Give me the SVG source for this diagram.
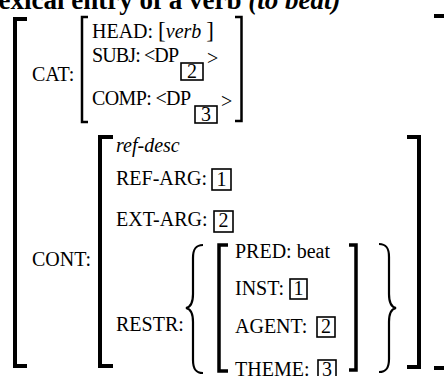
<svg xmlns="http://www.w3.org/2000/svg" width="444" height="376" viewBox="0 0 444 376">
<style>
text{font-family:"Liberation Serif","Times New Roman",serif;font-size:20px;fill:#000}
.title{font-size:27px;font-weight:bold}
.it{font-style:italic}
.br{fill:none;stroke:#000;stroke-linecap:butt;stroke-linejoin:miter}
.b4{stroke-width:4}
.b3{stroke-width:3.5}
.b2{stroke-width:2.5}
.brace{fill:none;stroke:#000;stroke-width:2.2}
.box{fill:none;stroke:#000;stroke-width:1.6}
.num{text-anchor:middle}
</style>
<rect width="444" height="376" fill="#fff"/>
<text id="title" class="title" x="-9" y="9">lexical entry of a verb <tspan class="it">(to beat)</tspan></text>

<g id="outer">
<path class="br b4" d="M27,19 H15 V366 H27"/>
<path class="br b4" d="M434,16 H446 V368 H434"/>
</g>

<g id="cat">
<text x="32" y="81">CAT:</text>
<path class="br b2" d="M88,17 H82 V122 H88"/>
<path class="br b2" d="M235,17 H241.5 V121 H235"/>
<text x="92" y="38">HEAD: <tspan font-size="23">[</tspan><tspan class="it">verb </tspan><tspan font-size="23">]</tspan></text>
<text x="92" y="62" textLength="87" lengthAdjust="spacing">SUBJ: &lt;DP</text>
<rect class="box" x="181" y="63" width="22" height="17"/>
<text class="num" x="192" y="78">2</text>
<text x="207" y="65">&gt;</text>
<text x="92" y="105" textLength="99" lengthAdjust="spacing">COMP: &lt;DP</text>
<rect class="box" x="195" y="106" width="22" height="17"/>
<text class="num" x="206" y="121">3</text>
<text x="221" y="108">&gt;</text>
</g>

<g id="cont">
<text x="32" y="266">CONT:</text>
<path class="br b4" d="M113,137 H100 V366 H113"/>
<path class="br b4" d="M407,137 H419 V367 H407"/>
<text class="it" x="116" y="152">ref-desc</text>
<text x="116" y="185">REF-ARG:</text>
<rect class="box" x="212" y="169" width="19" height="21"/>
<text class="num" x="221.5" y="186">1</text>
<text x="116" y="226">EXT-ARG:</text>
<rect class="box" x="214" y="211" width="19" height="21"/>
<text class="num" x="223.5" y="227">2</text>
<text x="116" y="331">RESTR:</text>
</g>

<g id="restr">
<path class="brace" d="M203,245 C195,245 193,250 193,258 V294 C193,302 191,307 186,308 C191,309 193,314 193,322 V360 C193,368 195,373 203,373"/>
<path class="brace" d="M379,244 C387,244 389,249 389,257 V294 C389,302 391,307 396,308 C391,309 389,314 389,322 V359 C389,367 387,372 379,372"/>
<path class="br b3" d="M228,245 H219 V371 H228"/>
<path class="br b3" d="M349,245 H356 V370 H349"/>
<text x="235" y="258">PRED: beat</text>
<text x="235" y="295">INST:</text>
<rect class="box" x="290" y="279" width="17" height="20"/>
<text class="num" x="298.5" y="295">1</text>
<text x="235" y="333">AGENT:</text>
<rect class="box" x="317" y="317" width="18" height="20"/>
<text class="num" x="326" y="333">2</text>
<text x="235" y="376">THEME:</text>
<rect class="box" x="318" y="360" width="18" height="20"/>
<text class="num" x="327" y="376">3</text>
</g>
</svg>
